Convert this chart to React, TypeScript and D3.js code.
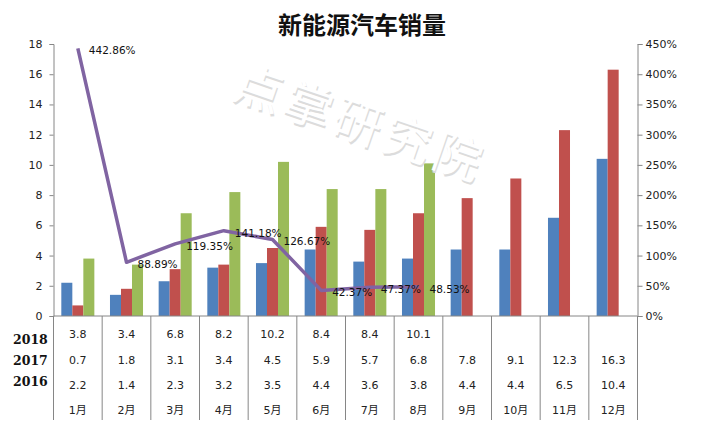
import { useEffect, useRef } from 'react';
import * as d3 from 'd3';

const months = ['1月', '2月', '3月', '4月', '5月', '6月', '7月', '8月', '9月', '10月', '11月', '12月'];
const years = ['2016', '2017', '2018'];
const sales2016 = [2.2, 1.4, 2.3, 3.2, 3.5, 4.4, 3.6, 3.8, 4.4, 4.4, 6.5, 10.4];
const sales2017 = [0.7, 1.8, 3.1, 3.4, 4.5, 5.9, 5.7, 6.8, 7.8, 9.1, 12.3, 16.3];
const sales2018 = [3.8, 3.4, 6.8, 8.2, 10.2, 8.4, 8.4, 10.1];
const growth = [442.86, 88.89, 119.35, 141.18, 126.67, 42.37, 47.37, 48.53];
const leftTicks = [0, 2, 4, 6, 8, 10, 12, 14, 16, 18];
const rightTicks = [0, 50, 100, 150, 200, 250, 300, 350, 400, 450];
const title = '新能源汽车销量';
const watermark = '点掌研究院';

const width = 716;
const height = 433;
const margin = { top: 44, right: 78.5, bottom: 117, left: 53.5 };
const axisColor = '#868686';
const textColor = '#222';
const sansFont = '"DejaVu Sans", sans-serif';

export default function App() {
  const svgRef = useRef<SVGSVGElement>(null);

  useEffect(() => {
    if (!svgRef.current) return;

    const svg = d3.select(svgRef.current);
    svg.selectAll('*').remove();

    const bottom = height - margin.bottom;
    const right = width - margin.right;

    const x = d3.scaleBand<string>().domain(months).range([margin.left, right]);
    const xSeries = d3
      .scaleBand<string>()
      .domain(years)
      .range([0, x.bandwidth()])
      .paddingInner(0)
      .paddingOuter(0.71);
    const y = d3.scaleLinear().domain([0, 18]).range([bottom, margin.top]);
    const yRight = d3.scaleLinear().domain([0, 450]).range([bottom, margin.top]);

    // bars
    const series = [
      { year: '2016', values: sales2016, color: '#4F81BD' },
      { year: '2017', values: sales2017, color: '#C0504D' },
      { year: '2018', values: sales2018, color: '#9BBB59' },
    ];
    series.forEach((s) => {
      svg
        .append('g')
        .selectAll('rect')
        .data(s.values)
        .join('rect')
        .attr('x', (_, i) => (x(months[i]) as number) + (xSeries(s.year) as number))
        .attr('y', (d) => y(d))
        .attr('width', xSeries.bandwidth())
        .attr('height', (d) => bottom - y(d))
        .attr('fill', s.color);
    });

    // growth line
    const monthCenter = (i: number) => (x(months[i]) as number) + x.bandwidth() / 2;
    const line = d3
      .line<number>()
      .x((_, i) => monthCenter(i))
      .y((d) => yRight(d));
    svg
      .append('path')
      .datum(growth)
      .attr('fill', 'none')
      .attr('stroke', '#8064A2')
      .attr('stroke-width', 3.5)
      .attr('stroke-linejoin', 'round')
      .attr('d', line);

    svg
      .append('g')
      .selectAll('text')
      .data(growth)
      .join('text')
      .attr('x', (_, i) => monthCenter(i) + 11)
      .attr('y', (d) => yRight(d) + 6)
      .attr('font-family', sansFont)
      .attr('font-size', 10.5)
      .attr('fill', '#111')
      .text((d) => `${d.toFixed(2)}%`);

    // axes
    const leftAxis = svg
      .append('g')
      .attr('transform', `translate(${margin.left},0)`)
      .call(d3.axisLeft(y).tickValues(leftTicks).tickSize(4).tickPadding(7));
    const rightAxis = svg
      .append('g')
      .attr('transform', `translate(${right},0)`)
      .call(
        d3
          .axisRight(yRight)
          .tickValues(rightTicks)
          .tickSize(5)
          .tickPadding(3)
          .tickFormat((d) => `${d}%`)
      );
    [leftAxis, rightAxis].forEach((a) => {
      a.select('.domain').attr('stroke', axisColor);
      a.selectAll('.tick line').attr('stroke', axisColor);
      a.selectAll('.tick text')
        .attr('fill', textColor)
        .attr('font-family', sansFont)
        .attr('font-size', 11);
    });
    svg
      .append('line')
      .attr('x1', margin.left)
      .attr('x2', right)
      .attr('y1', bottom)
      .attr('y2', bottom)
      .attr('stroke', axisColor);

    // data table under the plot
    svg
      .append('g')
      .selectAll('line')
      .data(d3.range(months.length + 1))
      .join('line')
      .attr('x1', (i) => margin.left + i * x.bandwidth())
      .attr('x2', (i) => margin.left + i * x.bandwidth())
      .attr('y1', bottom)
      .attr('y2', 420)
      .attr('stroke', axisColor);

    const rows = [
      { values: sales2018.map(String), y: 338 },
      { values: sales2017.map(String), y: 364 },
      { values: sales2016.map(String), y: 389 },
      { values: months, y: 414 },
    ];
    rows.forEach((row) => {
      svg
        .append('g')
        .selectAll('text')
        .data(row.values)
        .join('text')
        .attr('x', (_, i) => monthCenter(i))
        .attr('y', row.y)
        .attr('text-anchor', 'middle')
        .attr('font-family', '"DejaVu Sans", "Noto Sans CJK SC", sans-serif')
        .attr('font-size', 11)
        .attr('fill', textColor)
        .text((d) => d);
    });

    svg
      .append('g')
      .selectAll('text')
      .data([...years].reverse())
      .join('text')
      .attr('x', 13)
      .attr('y', (_, i) => 344 + i * 21)
      .attr('font-family', '"DejaVu Serif", serif')
      .attr('font-weight', 'bold')
      .attr('font-size', 12.5)
      .attr('fill', '#111')
      .text((d) => d);

    // title
    svg
      .append('text')
      .attr('x', 362)
      .attr('y', 34)
      .attr('text-anchor', 'middle')
      .attr('font-family', '"Noto Sans CJK SC", sans-serif')
      .attr('font-weight', 'bold')
      .attr('font-size', 24)
      .attr('fill', '#111')
      .text(title);

    // watermark sits over the bars
    const mark = svg.append('g').attr('transform', 'translate(231,97) rotate(19)');
    [
      { dx: 1.5, dy: 2, fill: '#dcdcdc' },
      { dx: 0, dy: 0, fill: '#fff' },
    ].forEach((layer) => {
      mark
        .append('text')
        .attr('x', layer.dx)
        .attr('y', layer.dy)
        .attr('font-family', '"Noto Sans CJK SC", sans-serif')
        .attr('font-size', 48)
        .attr('letter-spacing', 4.4)
        .attr('fill', layer.fill)
        .text(watermark);
    });
  }, []);

  return (
    <svg
      ref={svgRef}
      width={width}
      height={height}
      style={{ position: 'absolute', left: 0, top: 0, background: '#fff' }}
    />
  );
}
